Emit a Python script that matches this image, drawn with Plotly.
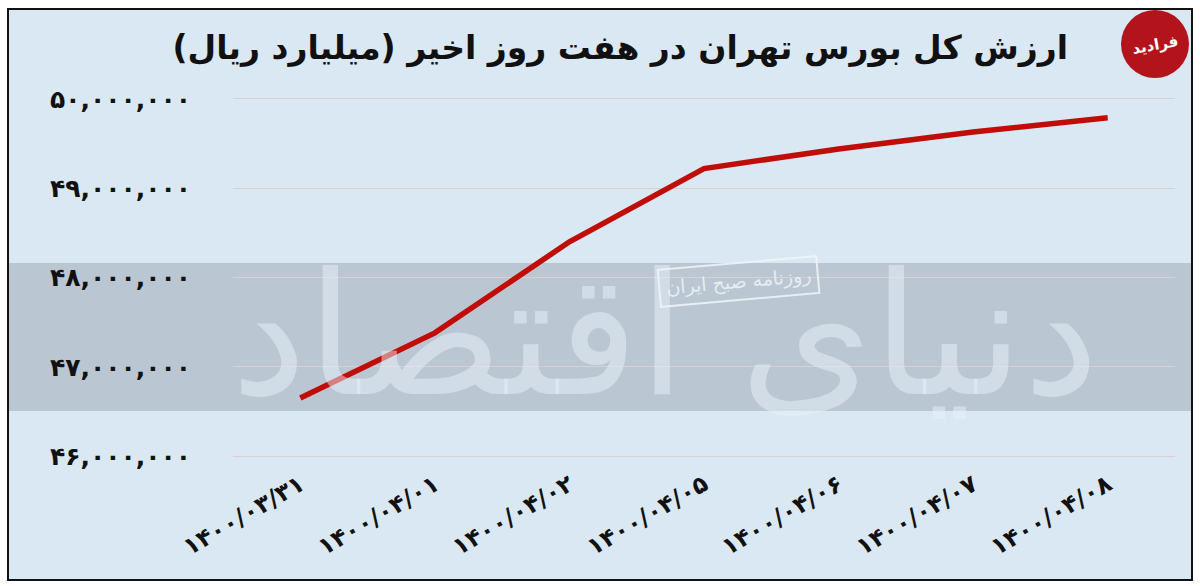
import plotly.graph_objects as go

# ---- data ----
dates = ["۱۴۰۰/۰۳/۳۱", "۱۴۰۰/۰۴/۰۱", "۱۴۰۰/۰۴/۰۲", "۱۴۰۰/۰۴/۰۵",
         "۱۴۰۰/۰۴/۰۶", "۱۴۰۰/۰۴/۰۷", "۱۴۰۰/۰۴/۰۸"]
values = [46650000, 47380000, 48400000, 49220000, 49440000, 49630000, 49790000]
y_tickvals = [46000000, 47000000, 48000000, 49000000, 50000000]
y_ticktext = ["۴۶,۰۰۰,۰۰۰", "۴۷,۰۰۰,۰۰۰", "۴۸,۰۰۰,۰۰۰", "۴۹,۰۰۰,۰۰۰", "۵۰,۰۰۰,۰۰۰"]
title_text = "ارزش کل بورس تهران در هفت روز اخیر (میلیارد ریال)"

# ---- layout geometry (pixels) ----
W, H = 1200, 586
L, R, T, B = 233, 25, 90, 121
PW, PH = W - L - R, H - T - B


def px(x):
    return (x - L) / PW


def py(y):
    return (H - B - y) / PH


FONT = "DejaVu Sans"
BG = "#d9e8f3"
BAND = "#bac7d2"

fig = go.Figure()
fig.add_trace(go.Scatter(
    x=dates, y=values, mode="lines",
    line=dict(color="#c10d08", width=5.5),
    hoverinfo="skip", showlegend=False,
))

shapes = [
    # panel with border
    dict(type="rect", xref="paper", yref="paper", x0=px(8), x1=px(1192), y0=py(580), y1=py(9),
         fillcolor=BG, line=dict(color="#111111", width=2), layer="below"),
    # gray band
    dict(type="rect", xref="paper", yref="paper", x0=px(9), x1=px(1191), y0=py(411), y1=py(263),
         fillcolor=BAND, line=dict(width=0), layer="below"),
    # logo circle
    dict(type="circle", xref="paper", yref="paper", x0=px(1121), x1=px(1189), y0=py(78), y1=py(10),
         fillcolor="#b3141b", line=dict(width=0), layer="above"),
]

annotations = [
    # watermark
    dict(text="دنیای اقتصاد", xref="paper", yref="paper", x=px(665), y=py(335),
         xanchor="center", yanchor="middle", showarrow=False,
         font=dict(family=FONT, size=170, color="rgba(232,241,249,0.5)")),
    # stamp
    dict(text="روزنامه صبح ایران", xref="paper", yref="paper", x=px(738), y=py(281),
         xanchor="center", yanchor="middle", showarrow=False, textangle=-5,
         font=dict(family=FONT, size=19, color="rgba(238,244,250,0.85)"),
         bordercolor="rgba(238,244,250,0.85)", borderwidth=2, borderpad=6),
    # logo text
    dict(text="<b>فرادید</b>", xref="paper", yref="paper", x=px(1155), y=py(45),
         xanchor="center", yanchor="middle", showarrow=False, textangle=-10,
         font=dict(family=FONT, size=15, color="white")),
]

fig.update_layout(
    width=W, height=H,
    margin=dict(l=L, r=R, t=T, b=B),
    paper_bgcolor="white",
    plot_bgcolor="rgba(0,0,0,0)",
    title=dict(text="<b>" + title_text + "</b>", xref="container", yref="container",
               x=1068 / W, y=1 - 47 / H, xanchor="right", yanchor="middle",
               font=dict(family=FONT, size=33, color="#111111")),
    shapes=shapes,
    annotations=annotations,
    xaxis=dict(
        type="category", range=[-0.5, 6.5],
        showgrid=False, showline=False, zeroline=False,
        tickangle=-30, ticks="",
        tickfont=dict(family=FONT, size=24, color="#111111", weight="bold"),
    ),
    yaxis=dict(
        range=[45900000, 50100000],
        tickvals=y_tickvals, ticktext=y_ticktext,
        showgrid=True, gridcolor="#dccfd4", gridwidth=1,
        zeroline=False, showline=False, ticks="",
        ticklabelstandoff=41,
        tickfont=dict(family=FONT, size=25, color="#111111", weight="bold"),
    ),
)

fig.write_html("out.html", config={"displayModeBar": False},
               post_script="document.body.style.margin='0';document.body.style.overflow='hidden';")
